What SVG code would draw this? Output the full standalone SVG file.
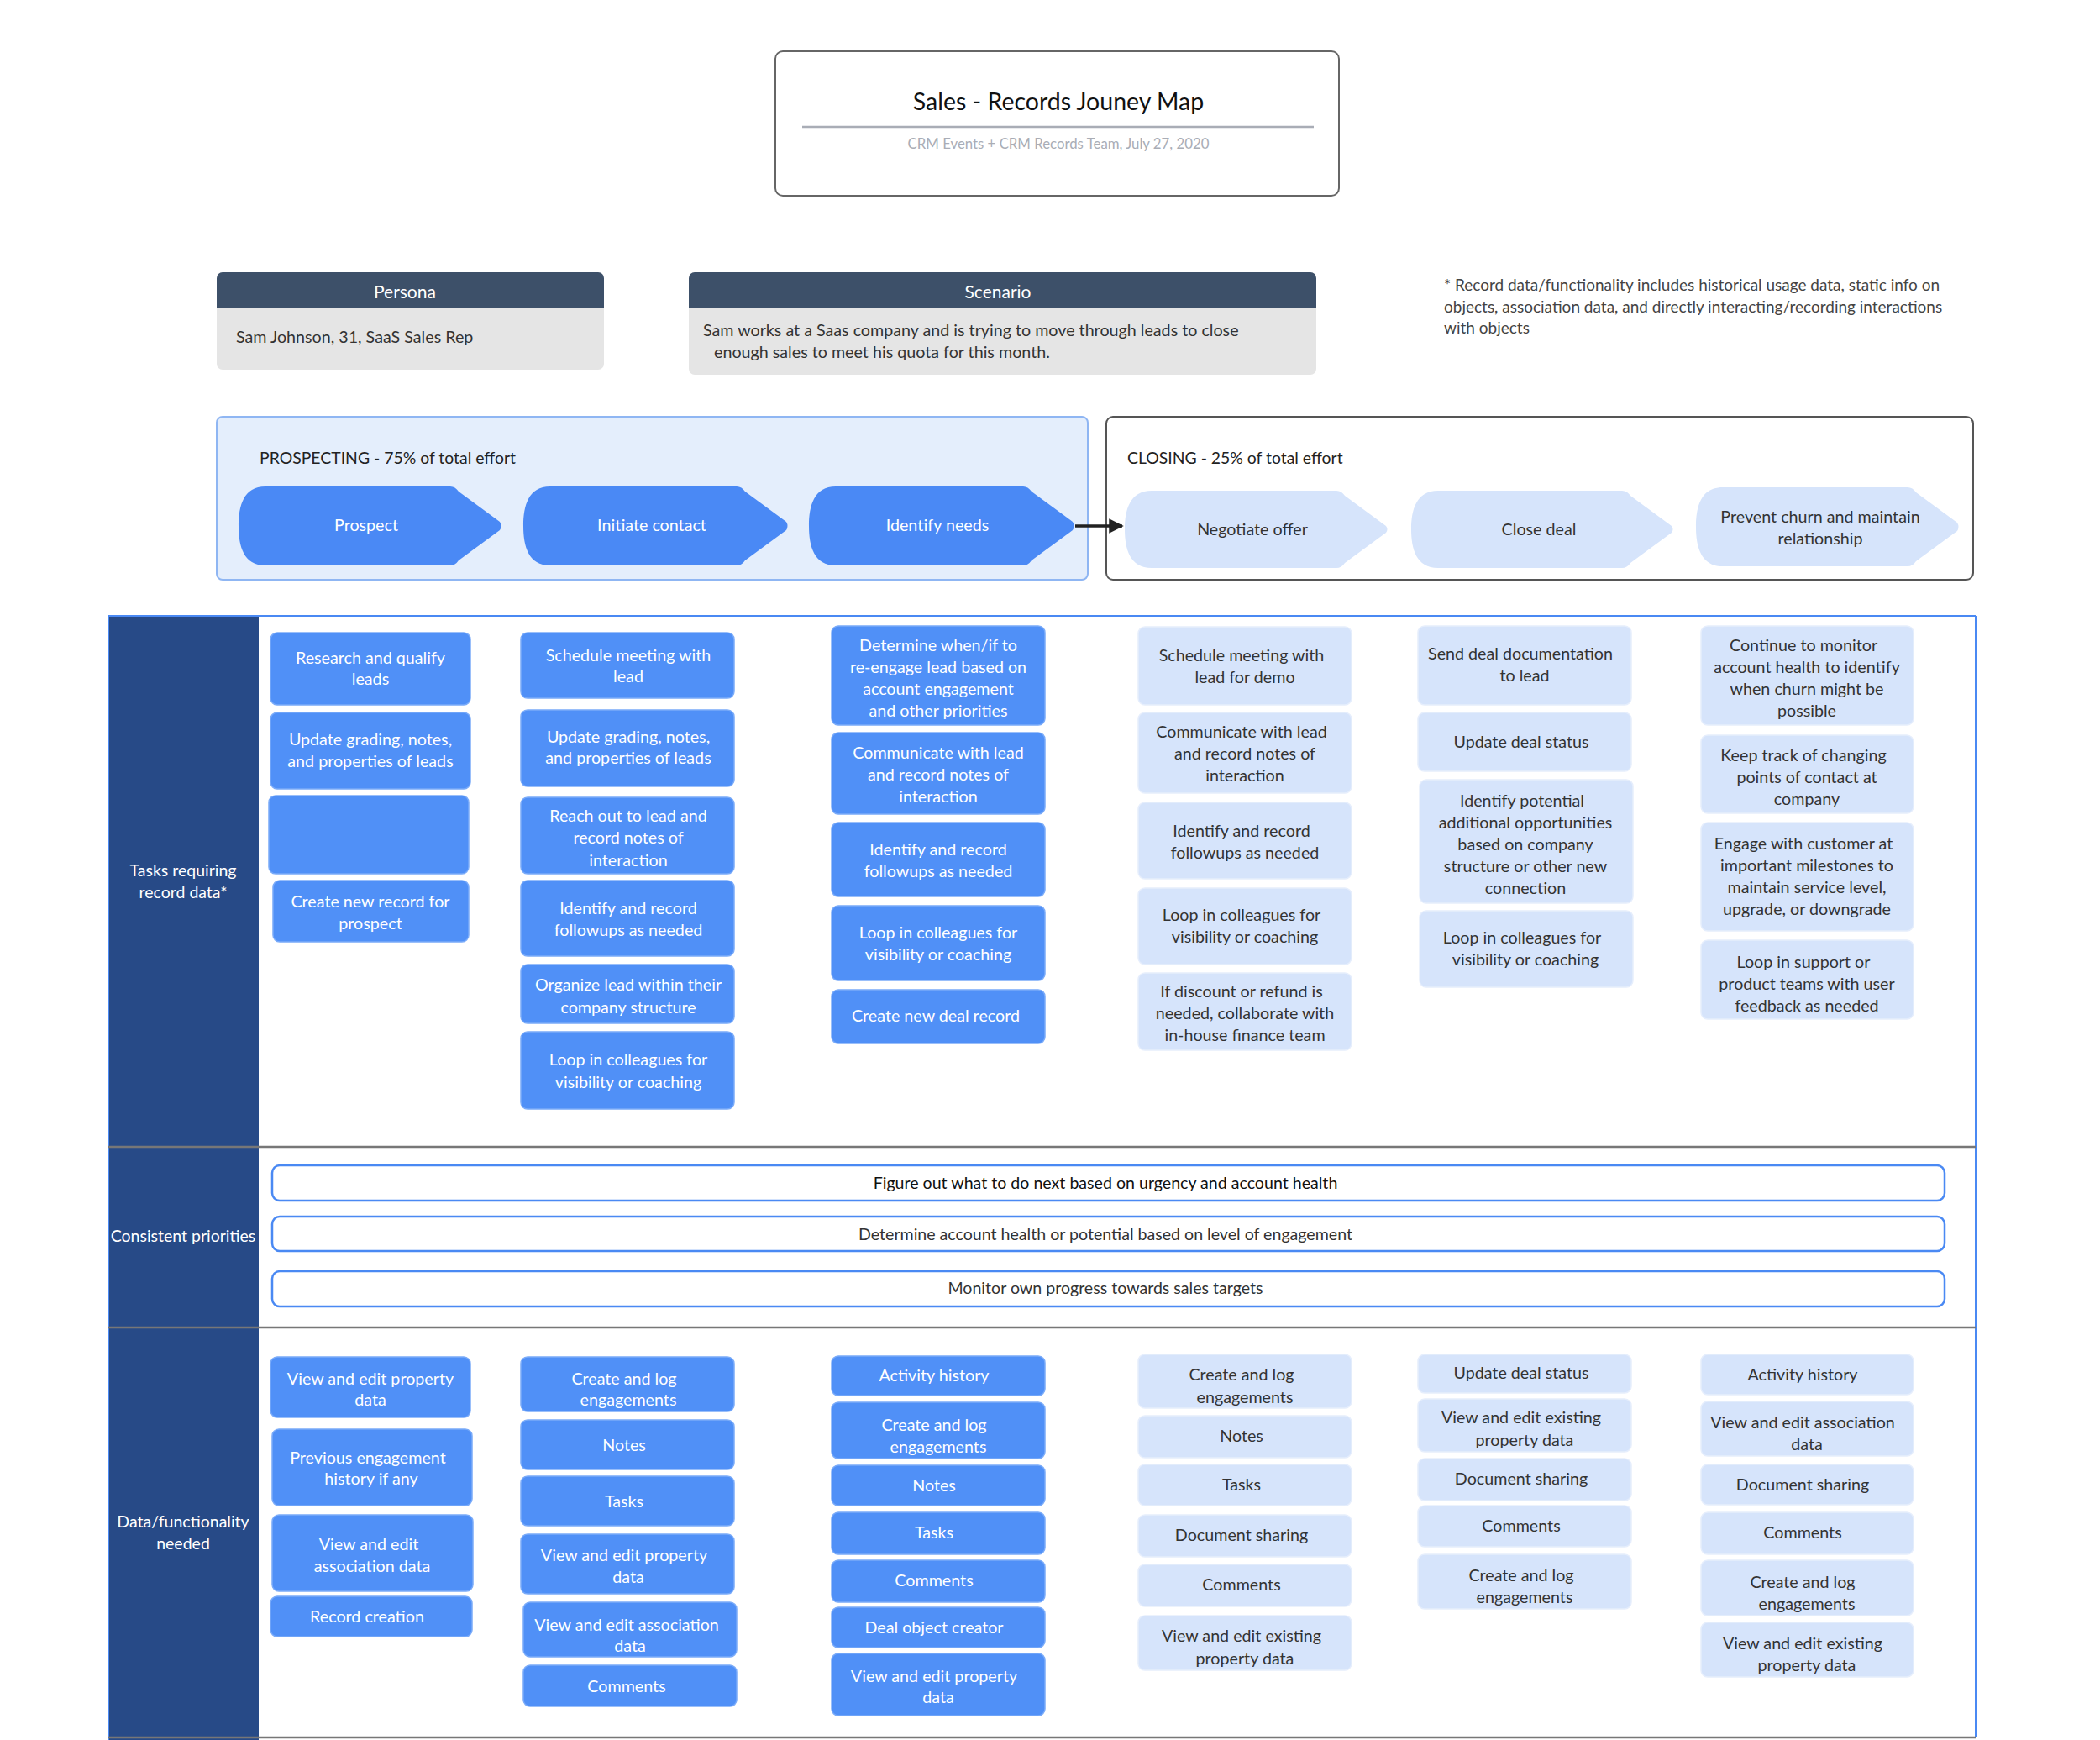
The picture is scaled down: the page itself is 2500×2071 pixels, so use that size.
<svg xmlns="http://www.w3.org/2000/svg" width="2500" height="2071" viewBox="0 0 2500 2071">
<defs>
<style>
text{font-family:"Lato","Liberation Sans",sans-serif;font-weight:400;}
.t{font-size:19.7px;text-anchor:middle;}
.w{fill:#ffffff;}
.d{fill:#333333;}
.cb{fill:#5090f7;stroke:#7aabf9;stroke-width:1.5;}
.cl{fill:#d6e4fb;stroke:#e6eefc;stroke-width:1.5;}
.pri{fill:#ffffff;stroke:#4a89f3;stroke-width:2.5;}
.chevB{fill:#4a89f5;}
.chevL{fill:#d6e4fb;}
.lbl{font-size:19.5px;fill:#ffffff;text-anchor:middle;}
.sep{stroke:#777777;stroke-width:2.5;}
</style>
<marker id="arr" viewBox="0 0 10 10" refX="9" refY="5" markerWidth="5" markerHeight="5" orient="auto"><path d="M0,0 L10,5 L0,10 z" fill="#222"/></marker>
</defs>
<rect width="2500" height="2071" fill="#ffffff"/>

<g id="title">
<rect x="923" y="61" width="671" height="172" rx="9" fill="#fff" stroke="#666" stroke-width="2"/>
<text x="1260" y="131" font-size="28.5" text-anchor="middle" fill="#111">Sales - Records Jouney Map</text>
<line x1="955" y1="151" x2="1564" y2="151" stroke="#a9adb6" stroke-width="2.5"/>
<text x="1260" y="177" font-size="16.8" text-anchor="middle" fill="#a9adb6" font-weight="300">CRM Events + CRM Records Team, July 27, 2020</text>
</g>

<g id="persona">
<rect x="258" y="324" width="461" height="116" rx="7" fill="#e5e5e5"/>
<path d="M258,367 V331 a7,7 0 0 1 7,-7 H712 a7,7 0 0 1 7,7 V367 Z" fill="#3d5069"/>
<text x="482" y="355" font-size="21" text-anchor="middle" fill="#fff" font-weight="300">Persona</text>
<text x="281" y="408" font-size="19.7" fill="#333">Sam Johnson, 31, SaaS Sales Rep</text>
</g>

<g id="scenario">
<rect x="820" y="324" width="747" height="122" rx="7" fill="#e5e5e5"/>
<path d="M820,367 V331 a7,7 0 0 1 7,-7 H1560 a7,7 0 0 1 7,7 V367 Z" fill="#3d5069"/>
<text x="1188" y="355" font-size="21" text-anchor="middle" fill="#fff" font-weight="300">Scenario</text>
<text x="837" y="400" font-size="19.7" fill="#333">Sam works at a Saas company and is trying to move through leads to close</text>
<text x="850" y="426" font-size="19.7" fill="#333">enough sales to meet his quota for this month.</text>
</g>

<g id="note">
<text font-size="19" fill="#444"><tspan x="1719" y="346">* Record data/functionality includes historical usage data, static info on</tspan><tspan x="1719" y="372">objects, association data, and directly interacting/recording interactions</tspan><tspan x="1719" y="397">with objects</tspan></text>
</g>

<g id="prospecting">
<rect x="258" y="496" width="1037" height="194" rx="7" fill="#e4eefc" stroke="#8fb6f3" stroke-width="2"/>
<text x="309" y="552" font-size="19.4" fill="#222">PROSPECTING - 75% of total effort</text>
</g>
<g id="closing">
<rect x="1317" y="496" width="1032" height="194" rx="8" fill="#ffffff" stroke="#555" stroke-width="2"/>
<text x="1342" y="552" font-size="19.4" fill="#222">CLOSING - 25% of total effort</text>
</g>

<g id="stage-prospect">
<path class="chevB" d="M316,579 H536 Q542,579 546,585 L595,621 Q598,626 595,631 L546,667 Q542,673 536,673 H316 C290,673 284,650 284,626 C284,602 290,579 316,579 Z"/>
<text class="t w" x="436" y="632">Prospect</text>
</g>
<g id="stage-initiate">
<path class="chevB" d="M655,579 H877 Q883,579 887,585 L936,621 Q939,626 936,631 L887,667 Q883,673 877,673 H655 C629,673 623,650 623,626 C623,602 629,579 655,579 Z"/>
<text class="t w" x="776" y="632">Initiate contact</text>
</g>
<g id="stage-identify">
<path class="chevB" d="M995,579 H1218 Q1224,579 1228,585 L1277,621 Q1280,626 1277,631 L1228,667 Q1224,673 1218,673 H995 C969,673 963,650 963,626 C963,602 969,579 995,579 Z"/>
<text class="t w" x="1116" y="632">Identify needs</text>
</g>
<g id="stage-negotiate">
<path class="chevL" d="M1371,584 H1591 Q1597,584 1601,590 L1650,626 Q1653,630 1650,634 L1601,670 Q1597,676 1591,676 H1371 C1345,676 1339,653 1339,630 C1339,607 1345,584 1371,584 Z"/>
<text class="t d" x="1491" y="637">Negotiate offer</text>
</g>
<g id="stage-close">
<path class="chevL" d="M1712,584 H1931 Q1937,584 1941,590 L1990,626 Q1993,630 1990,634 L1941,670 Q1937,676 1931,676 H1712 C1686,676 1680,653 1680,630 C1680,607 1686,584 1712,584 Z"/>
<text class="t d" x="1832" y="637">Close deal</text>
</g>
<g id="stage-prevent">
<path class="chevL" d="M2051,580 H2271 Q2277,580 2281,586 L2330,622 Q2333,627 2330,632 L2281,668 Q2277,674 2271,674 H2051 C2025,674 2019,651 2019,627 C2019,603 2025,580 2051,580 Z"/>
<text class="t d" x="2167" y="622">Prevent churn and maintain</text>
<text class="t d" x="2167" y="648">relationship</text>
</g>

<g id="connectors">
<line x1="1280" y1="626" x2="1336" y2="626" stroke="#222" stroke-width="3.5" marker-end="url(#arr)"/>
</g>

<g id="table">
<rect x="129" y="733" width="179" height="1338" fill="#274a87"/>
<line x1="129" y1="733" x2="2352" y2="733" stroke="#4a89f3" stroke-width="2"/>
<line x1="2352" y1="733" x2="2352" y2="2068" stroke="#4a89f3" stroke-width="2"/>
<line x1="129" y1="733" x2="129" y2="2071" stroke="#4a89f3" stroke-width="2"/>
<line class="sep" x1="129" y1="1365" x2="2352" y2="1365"/>
<line class="sep" x1="129" y1="1580" x2="2352" y2="1580"/>
<line class="sep" x1="129" y1="2068" x2="2352" y2="2068"/>
<text class="lbl" x="218" y="1043">Tasks requiring</text>
<text class="lbl" x="218" y="1069">record data*</text>
<text class="lbl" x="218" y="1478">Consistent priorities</text>
<text class="lbl" x="218" y="1818">Data/functionality</text>
<text class="lbl" x="218" y="1844">needed</text>
</g>

<!-- Tasks column 1 -->
<g id="t1-1"><rect class="cb" x="322" y="753" width="238" height="86" rx="8"/><text class="t w"><tspan x="441" y="790">Research and qualify</tspan><tspan x="441" y="815">leads</tspan></text></g>
<g id="t1-2"><rect class="cb" x="322" y="848" width="238" height="91" rx="8"/><text class="t w"><tspan x="441" y="887">Update grading, notes,</tspan><tspan x="441" y="913">and properties of leads</tspan></text></g>
<g id="t1-3"><rect class="cb" x="320" y="947" width="238" height="93" rx="8"/></g>
<g id="t1-4"><rect class="cb" x="325" y="1048" width="233" height="73" rx="8"/><text class="t w"><tspan x="441" y="1080">Create new record for</tspan><tspan x="441" y="1106">prospect</tspan></text></g>

<!-- Tasks column 2 -->
<g id="t2-1"><rect class="cb" x="620" y="753" width="254" height="78" rx="8"/><text class="t w"><tspan x="748" y="787">Schedule meeting with</tspan><tspan x="748" y="812">lead</tspan></text></g>
<g id="t2-2"><rect class="cb" x="620" y="845" width="254" height="91" rx="8"/><text class="t w"><tspan x="748" y="884">Update grading, notes,</tspan><tspan x="748" y="909">and properties of leads</tspan></text></g>
<g id="t2-3"><rect class="cb" x="620" y="949" width="254" height="91" rx="8"/><text class="t w"><tspan x="748" y="978">Reach out to lead and</tspan><tspan x="748" y="1004">record notes of</tspan><tspan x="748" y="1031">interaction</tspan></text></g>
<g id="t2-4"><rect class="cb" x="620" y="1048" width="254" height="90" rx="8"/><text class="t w"><tspan x="748" y="1088">Identify and record</tspan><tspan x="748" y="1114">followups as needed</tspan></text></g>
<g id="t2-5"><rect class="cb" x="620" y="1148" width="254" height="70" rx="8"/><text class="t w"><tspan x="748" y="1179">Organize lead within their</tspan><tspan x="748" y="1206">company structure</tspan></text></g>
<g id="t2-6"><rect class="cb" x="620" y="1228" width="254" height="92" rx="8"/><text class="t w"><tspan x="748" y="1268">Loop in colleagues for</tspan><tspan x="748" y="1295">visibility or coaching</tspan></text></g>

<!-- Tasks column 3 -->
<g id="t3-1"><rect class="cb" x="990" y="745" width="254" height="118" rx="8"/><text class="t w"><tspan x="1117" y="775">Determine when/if to</tspan><tspan x="1117" y="801">re-engage lead based on</tspan><tspan x="1117" y="827">account engagement</tspan><tspan x="1117" y="853">and other priorities</tspan></text></g>
<g id="t3-2"><rect class="cb" x="990" y="872" width="254" height="97" rx="8"/><text class="t w"><tspan x="1117" y="903">Communicate with lead</tspan><tspan x="1117" y="929">and record notes of</tspan><tspan x="1117" y="955">interaction</tspan></text></g>
<g id="t3-3"><rect class="cb" x="990" y="979" width="254" height="88" rx="8"/><text class="t w"><tspan x="1117" y="1018">Identify and record</tspan><tspan x="1117" y="1044">followups as needed</tspan></text></g>
<g id="t3-4"><rect class="cb" x="990" y="1078" width="254" height="89" rx="8"/><text class="t w"><tspan x="1117" y="1117">Loop in colleagues for</tspan><tspan x="1117" y="1143">visibility or coaching</tspan></text></g>
<g id="t3-5"><rect class="cb" x="990" y="1178" width="254" height="64" rx="8"/><text class="t w"><tspan x="1114" y="1216">Create new deal record</tspan></text></g>

<!-- Tasks column 4 -->
<g id="t4-1"><rect class="cl" x="1355" y="746" width="254" height="93" rx="8"/><text class="t d"><tspan x="1478" y="787">Schedule meeting with</tspan><tspan x="1482" y="813">lead for demo</tspan></text></g>
<g id="t4-2"><rect class="cl" x="1355" y="848" width="254" height="96" rx="8"/><text class="t d"><tspan x="1478" y="878">Communicate with lead</tspan><tspan x="1482" y="904">and record notes of</tspan><tspan x="1482" y="930">interaction</tspan></text></g>
<g id="t4-3"><rect class="cl" x="1355" y="955" width="254" height="91" rx="8"/><text class="t d"><tspan x="1478" y="996">Identify and record</tspan><tspan x="1482" y="1022">followups as needed</tspan></text></g>
<g id="t4-4"><rect class="cl" x="1355" y="1057" width="254" height="91" rx="8"/><text class="t d"><tspan x="1478" y="1096">Loop in colleagues for</tspan><tspan x="1482" y="1122">visibility or coaching</tspan></text></g>
<g id="t4-5"><rect class="cl" x="1355" y="1158" width="254" height="92" rx="8"/><text class="t d"><tspan x="1478" y="1187">If discount or refund is</tspan><tspan x="1482" y="1213">needed, collaborate with</tspan><tspan x="1482" y="1239">in-house finance team</tspan></text></g>

<!-- Tasks column 5 -->
<g id="t5-1"><rect class="cl" x="1688" y="745" width="254" height="94" rx="8"/><text class="t d"><tspan x="1810" y="785">Send deal documentation</tspan><tspan x="1815" y="811">to lead</tspan></text></g>
<g id="t5-2"><rect class="cl" x="1688" y="848" width="254" height="70" rx="8"/><text class="t d"><tspan x="1811" y="890">Update deal status</tspan></text></g>
<g id="t5-3"><rect class="cl" x="1690" y="928" width="254" height="147" rx="8"/><text class="t d"><tspan x="1812" y="960">Identify potential</tspan><tspan x="1816" y="986">additional opportunities</tspan><tspan x="1816" y="1012">based on company</tspan><tspan x="1816" y="1038">structure or other new</tspan><tspan x="1816" y="1064">connection</tspan></text></g>
<g id="t5-4"><rect class="cl" x="1690" y="1084" width="254" height="91" rx="8"/><text class="t d"><tspan x="1812" y="1123">Loop in colleagues for</tspan><tspan x="1816" y="1149">visibility or coaching</tspan></text></g>

<!-- Tasks column 6 -->
<g id="t6-1"><rect class="cl" x="2025" y="745" width="253" height="118" rx="8"/><text class="t d"><tspan x="2147" y="775">Continue to monitor</tspan><tspan x="2151" y="801">account health to identify</tspan><tspan x="2151" y="827">when churn might be</tspan><tspan x="2151" y="853">possible</tspan></text></g>
<g id="t6-2"><rect class="cl" x="2025" y="875" width="253" height="93" rx="8"/><text class="t d"><tspan x="2147" y="906">Keep track of changing</tspan><tspan x="2151" y="932">points of contact at</tspan><tspan x="2151" y="958">company</tspan></text></g>
<g id="t6-3"><rect class="cl" x="2025" y="979" width="253" height="129" rx="8"/><text class="t d"><tspan x="2147" y="1011">Engage with customer at</tspan><tspan x="2151" y="1037">important milestones to</tspan><tspan x="2151" y="1063">maintain service level,</tspan><tspan x="2151" y="1089">upgrade, or downgrade</tspan></text></g>
<g id="t6-4"><rect class="cl" x="2025" y="1119" width="253" height="94" rx="8"/><text class="t d"><tspan x="2147" y="1152">Loop in support or</tspan><tspan x="2151" y="1178">product teams with user</tspan><tspan x="2151" y="1204">feedback as needed</tspan></text></g>

<!-- Priorities -->
<g id="p1"><rect class="pri" x="324" y="1387" width="1991" height="42" rx="9"/><text x="1316" y="1415" font-size="19.6" text-anchor="middle" fill="#111">Figure out what to do next based on urgency and account health</text></g>
<g id="p2"><rect class="pri" x="324" y="1448" width="1991" height="41" rx="9"/><text x="1316" y="1476" font-size="19.6" text-anchor="middle" fill="#333">Determine account health or potential based on level of engagement</text></g>
<g id="p3"><rect class="pri" x="324" y="1513" width="1991" height="42" rx="9"/><text x="1316" y="1540" font-size="19.6" text-anchor="middle" fill="#333">Monitor own progress towards sales targets</text></g>

<!-- Data column 1 -->
<g id="d1-1"><rect class="cb" x="322" y="1615" width="238" height="72" rx="8"/><text class="t w"><tspan x="441" y="1648">View and edit property</tspan><tspan x="441" y="1673">data</tspan></text></g>
<g id="d1-2"><rect class="cb" x="324" y="1701" width="238" height="91" rx="8"/><text class="t w"><tspan x="438" y="1742">Previous engagement</tspan><tspan x="442" y="1767">history if any</tspan></text></g>
<g id="d1-3"><rect class="cb" x="324" y="1803" width="239" height="91" rx="8"/><text class="t w"><tspan x="439" y="1845">View and edit</tspan><tspan x="443" y="1871">association data</tspan></text></g>
<g id="d1-4"><rect class="cb" x="322" y="1900" width="240" height="48" rx="8"/><text class="t w"><tspan x="437" y="1931">Record creation</tspan></text></g>

<!-- Data column 2 -->
<g id="d2-1"><rect class="cb" x="620" y="1615" width="254" height="65" rx="8"/><text class="t w"><tspan x="743" y="1648">Create and log</tspan><tspan x="748" y="1673">engagements</tspan></text></g>
<g id="d2-2"><rect class="cb" x="620" y="1690" width="254" height="59" rx="8"/><text class="t w"><tspan x="743" y="1727">Notes</tspan></text></g>
<g id="d2-3"><rect class="cb" x="620" y="1757" width="254" height="59" rx="8"/><text class="t w"><tspan x="743" y="1794">Tasks</tspan></text></g>
<g id="d2-4"><rect class="cb" x="620" y="1826" width="254" height="71" rx="8"/><text class="t w"><tspan x="743" y="1858">View and edit property</tspan><tspan x="748" y="1884">data</tspan></text></g>
<g id="d2-5"><rect class="cb" x="623" y="1907" width="254" height="65" rx="8"/><text class="t w"><tspan x="746" y="1941">View and edit association</tspan><tspan x="750" y="1966">data</tspan></text></g>
<g id="d2-6"><rect class="cb" x="623" y="1982" width="254" height="49" rx="8"/><text class="t w"><tspan x="746" y="2014">Comments</tspan></text></g>

<!-- Data column 3 -->
<g id="d3-1"><rect class="cb" x="990" y="1614" width="254" height="47" rx="8"/><text class="t w"><tspan x="1112" y="1644">Activity history</tspan></text></g>
<g id="d3-2"><rect class="cb" x="990" y="1669" width="254" height="67" rx="8"/><text class="t w"><tspan x="1112" y="1703">Create and log</tspan><tspan x="1117" y="1729">engagements</tspan></text></g>
<g id="d3-3"><rect class="cb" x="990" y="1744" width="254" height="48" rx="8"/><text class="t w"><tspan x="1112" y="1775">Notes</tspan></text></g>
<g id="d3-4"><rect class="cb" x="990" y="1800" width="254" height="50" rx="8"/><text class="t w"><tspan x="1112" y="1831">Tasks</tspan></text></g>
<g id="d3-5"><rect class="cb" x="990" y="1857" width="254" height="50" rx="8"/><text class="t w"><tspan x="1112" y="1888">Comments</tspan></text></g>
<g id="d3-6"><rect class="cb" x="990" y="1913" width="254" height="48" rx="8"/><text class="t w"><tspan x="1112" y="1944">Deal object creator</tspan></text></g>
<g id="d3-7"><rect class="cb" x="990" y="1968" width="254" height="74" rx="8"/><text class="t w"><tspan x="1112" y="2002">View and edit property</tspan><tspan x="1117" y="2027">data</tspan></text></g>

<!-- Data column 4 -->
<g id="d4-1"><rect class="cl" x="1355" y="1612" width="254" height="64" rx="8"/><text class="t d"><tspan x="1478" y="1643">Create and log</tspan><tspan x="1482" y="1670">engagements</tspan></text></g>
<g id="d4-2"><rect class="cl" x="1355" y="1685" width="254" height="50" rx="8"/><text class="t d"><tspan x="1478" y="1716">Notes</tspan></text></g>
<g id="d4-3"><rect class="cl" x="1355" y="1743" width="254" height="49" rx="8"/><text class="t d"><tspan x="1478" y="1774">Tasks</tspan></text></g>
<g id="d4-4"><rect class="cl" x="1355" y="1803" width="254" height="50" rx="8"/><text class="t d"><tspan x="1478" y="1834">Document sharing</tspan></text></g>
<g id="d4-5"><rect class="cl" x="1355" y="1862" width="254" height="50" rx="8"/><text class="t d"><tspan x="1478" y="1893">Comments</tspan></text></g>
<g id="d4-6"><rect class="cl" x="1355" y="1923" width="254" height="65" rx="8"/><text class="t d"><tspan x="1478" y="1954">View and edit existing</tspan><tspan x="1482" y="1981">property data</tspan></text></g>

<!-- Data column 5 -->
<g id="d5-1"><rect class="cl" x="1688" y="1612" width="254" height="46" rx="8"/><text class="t d"><tspan x="1811" y="1641">Update deal status</tspan></text></g>
<g id="d5-2"><rect class="cl" x="1688" y="1665" width="254" height="63" rx="8"/><text class="t d"><tspan x="1811" y="1694">View and edit existing</tspan><tspan x="1815" y="1721">property data</tspan></text></g>
<g id="d5-3"><rect class="cl" x="1688" y="1736" width="254" height="50" rx="8"/><text class="t d"><tspan x="1811" y="1767">Document sharing</tspan></text></g>
<g id="d5-4"><rect class="cl" x="1688" y="1792" width="254" height="49" rx="8"/><text class="t d"><tspan x="1811" y="1823">Comments</tspan></text></g>
<g id="d5-5"><rect class="cl" x="1688" y="1850" width="254" height="65" rx="8"/><text class="t d"><tspan x="1811" y="1882">Create and log</tspan><tspan x="1815" y="1908">engagements</tspan></text></g>

<!-- Data column 6 -->
<g id="d6-1"><rect class="cl" x="2025" y="1612" width="253" height="48" rx="8"/><text class="t d"><tspan x="2146" y="1643">Activity history</tspan></text></g>
<g id="d6-2"><rect class="cl" x="2025" y="1668" width="253" height="65" rx="8"/><text class="t d"><tspan x="2146" y="1700">View and edit association</tspan><tspan x="2151" y="1726">data</tspan></text></g>
<g id="d6-3"><rect class="cl" x="2025" y="1743" width="253" height="48" rx="8"/><text class="t d"><tspan x="2146" y="1774">Document sharing</tspan></text></g>
<g id="d6-4"><rect class="cl" x="2025" y="1800" width="253" height="50" rx="8"/><text class="t d"><tspan x="2146" y="1831">Comments</tspan></text></g>
<g id="d6-5"><rect class="cl" x="2025" y="1857" width="253" height="66" rx="8"/><text class="t d"><tspan x="2146" y="1890">Create and log</tspan><tspan x="2151" y="1916">engagements</tspan></text></g>
<g id="d6-6"><rect class="cl" x="2025" y="1931" width="253" height="65" rx="8"/><text class="t d"><tspan x="2146" y="1963">View and edit existing</tspan><tspan x="2151" y="1989">property data</tspan></text></g>
</svg>
